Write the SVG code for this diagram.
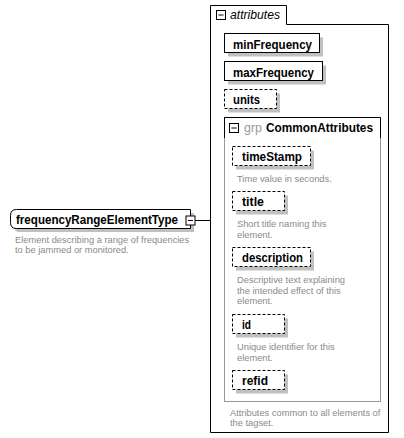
<svg xmlns="http://www.w3.org/2000/svg" width="404" height="438" viewBox="0 0 404 438">
<style>
.bg{fill:#fff}
.box{fill:#fff;stroke:#000;stroke-width:1}
.dash{fill:#fff;stroke:#000;stroke-width:1;stroke-dasharray:3,2}
.sh{fill:#c0c0c0}
.lbl{font-family:"Liberation Sans",Arial,sans-serif;font-size:12.5px;font-weight:bold;fill:#000}
.desc{font-family:"Liberation Sans",Arial,sans-serif;font-size:9.3px;fill:#8a8a8a}
.ital{font-family:"Liberation Sans",Arial,sans-serif;font-size:12.5px;font-style:italic;fill:#000}
.grp{font-family:"Liberation Sans",Arial,sans-serif;font-size:12.5px;fill:#999}
.line{fill:none;stroke:#000;stroke-width:1}
.icon{fill:#fff;stroke:#000;stroke-width:1}
</style>
<defs>
<g id="minus"><rect class="icon" x="0" y="0" width="9" height="9"/><line class="line" x1="2" y1="4.5" x2="7" y2="4.5"/></g>
</defs>
<rect class="bg" x="0" y="0" width="404" height="438"/>

<g id="connectors">
<line class="line" x1="195" y1="220.5" x2="210.5" y2="220.5"/>
</g>

<g id="attributes">
<path class="box" d="M210.5,432.5 V5.5 H286.5 V24.5 H388.5 V432.5 Z"/>
<use href="#minus" x="216.5" y="10.5"/>
<text class="ital" x="230" y="19" textLength="50" lengthAdjust="spacingAndGlyphs">attributes</text>
<text class="desc" x="230" y="415.5">Attributes common to all elements of</text>
<text class="desc" x="230" y="426">the tagset.</text>
</g>

<g id="minFrequency">
<rect class="sh" x="228" y="37.5" width="95" height="19"/>
<rect class="box" x="224.5" y="33.5" width="95" height="19"/>
<text class="lbl" x="233" y="48.5" textLength="79" lengthAdjust="spacingAndGlyphs">minFrequency</text>
</g>

<g id="maxFrequency">
<rect class="sh" x="228" y="65.5" width="98" height="19"/>
<rect class="box" x="224.5" y="61.5" width="98" height="19"/>
<text class="lbl" x="233" y="76.5" textLength="81" lengthAdjust="spacingAndGlyphs">maxFrequency</text>
</g>

<g id="units">
<rect class="sh" x="228" y="93.5" width="52" height="19"/>
<rect class="dash" x="224.5" y="89.5" width="52" height="19"/>
<text class="lbl" x="233" y="103.5" textLength="27" lengthAdjust="spacingAndGlyphs">units</text>
</g>

<g id="CommonAttributes">
<rect x="224.5" y="117.5" width="156" height="284" fill="none" stroke="#999" stroke-width="1"/>
<path class="line" d="M224.5,138 V117.5 H380.5 V138"/>
<use href="#minus" x="229.5" y="123.5"/>
<text class="grp" x="244" y="132">grp</text>
<text class="lbl" x="266" y="132" textLength="107" lengthAdjust="spacingAndGlyphs">CommonAttributes</text>
</g>

<g id="timeStamp">
<rect class="sh" x="236" y="150.5" width="78" height="19"/>
<rect class="dash" x="232.5" y="146.5" width="78" height="19"/>
<text class="lbl" x="242" y="160.5" textLength="60" lengthAdjust="spacingAndGlyphs">timeStamp</text>
<text class="desc" x="237" y="182">Time value in seconds.</text>
</g>

<g id="title">
<rect class="sh" x="236" y="195.5" width="52" height="19"/>
<rect class="dash" x="232.5" y="191.5" width="52" height="19"/>
<text class="lbl" x="242" y="205.5" textLength="22" lengthAdjust="spacingAndGlyphs">title</text>
<text class="desc" x="237" y="227">Short title naming this</text>
<text class="desc" x="237" y="238">element.</text>
</g>

<g id="description">
<rect class="sh" x="236" y="251.5" width="78" height="19"/>
<rect class="dash" x="232.5" y="247.5" width="78" height="19"/>
<text class="lbl" x="242" y="261.5" textLength="61" lengthAdjust="spacingAndGlyphs">description</text>
<text class="desc" x="237" y="283">Descriptive text explaining</text>
<text class="desc" x="237" y="293.5">the intended effect of this</text>
<text class="desc" x="237" y="304">element.</text>
</g>

<g id="id">
<rect class="sh" x="236" y="318.5" width="52" height="19"/>
<rect class="dash" x="232.5" y="314.5" width="52" height="19"/>
<text class="lbl" x="242" y="328.5" textLength="9" lengthAdjust="spacingAndGlyphs">id</text>
<text class="desc" x="237" y="350">Unique identifier for this</text>
<text class="desc" x="237" y="360.5">element.</text>
</g>

<g id="refid">
<rect class="sh" x="236" y="374.5" width="52" height="19"/>
<rect class="dash" x="232.5" y="370.5" width="52" height="19"/>
<text class="lbl" x="242" y="384.5" textLength="26" lengthAdjust="spacingAndGlyphs">refid</text>
</g>

<g id="frequencyRangeElementType">
<path class="sh" d="M20,213 H194 V232 H20 Q14,232 14,226 V219 Q14,213 20,213 Z"/>
<path class="box" d="M16.5,209.5 H190.5 V228.5 H16.5 Q10.5,228.5 10.5,222.5 V215.5 Q10.5,209.5 16.5,209.5 Z"/>
<text class="lbl" x="16" y="224" textLength="162" lengthAdjust="spacingAndGlyphs">frequencyRangeElementType</text>
<use href="#minus" x="186" y="216"/>
<text class="desc" x="15" y="242.5">Element describing a range of frequencies</text>
<text class="desc" x="15" y="253">to be jammed or monitored.</text>
</g>
</svg>
